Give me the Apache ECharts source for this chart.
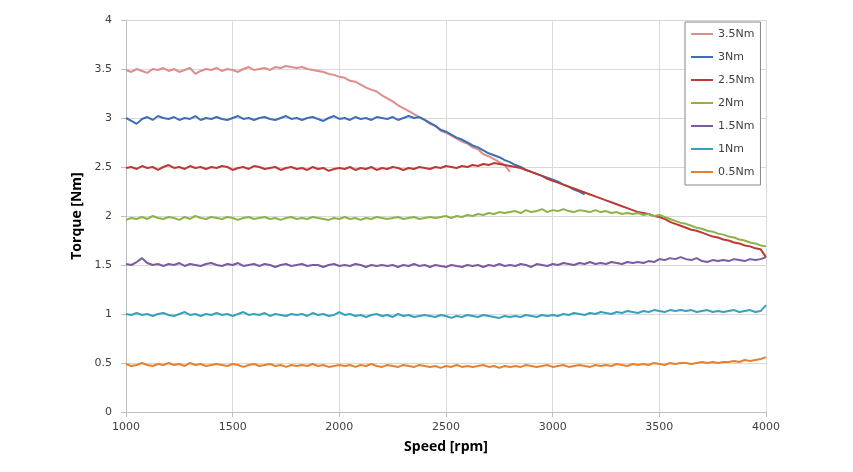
<!DOCTYPE html>
<html>
<head>
<meta charset="utf-8">
<script src="https://cdn.jsdelivr.net/npm/echarts@6/dist/echarts.min.js"></script>
<style>html,body{margin:0;padding:0;background:#fff}#c{width:853px;height:472px}</style>
</head>
<body>
<div id="c"></div>
<script>
const speedStart = 1000, speedStep = 25;
const seriesNames = ['3.5Nm', '3Nm', '2.5Nm', '2Nm', '1.5Nm', '1Nm', '0.5Nm'];
const seriesColors = ['#DC8E8A', '#3D6FB5', '#BE3934', '#8DB24A', '#7B5BA1', '#34A2BE', '#E8812F'];

const t35 = [3.49,3.47,3.50,3.48,3.46,3.50,3.49,3.51,3.48,
  3.50,3.47,3.49,3.51,3.45,3.48,3.50,3.49,
  3.51,3.48,3.50,3.49,3.47,3.50,3.52,3.49,
  3.50,3.51,3.49,3.52,3.51,3.53,3.52,3.51,
  3.52,3.50,3.49,3.48,3.47,3.45,3.44,3.42,
  3.41,3.38,3.37,3.34,3.31,3.29,3.27,3.23,
  3.20,3.17,3.13,3.10,3.07,3.04,3.01,2.98,
  2.94,2.92,2.87,2.85,2.82,2.79,2.76,2.74,
  2.70,2.68,2.63,2.61,2.58,2.55,2.52,2.45];
const t30 = [3.00,2.97,2.94,2.99,3.01,2.98,3.02,3.00,2.99,
  3.01,2.98,3.00,2.99,3.02,2.98,3.00,2.99,
  3.01,2.99,2.98,3.00,3.02,2.99,3.00,2.98,
  3.00,3.01,2.99,2.98,3.00,3.02,2.99,3.00,
  2.98,3.00,3.01,2.99,2.97,3.00,3.02,2.99,
  3.00,2.98,3.01,2.99,3.00,2.98,3.01,3.00,
  2.99,3.01,2.98,3.00,3.02,3.00,3.01,2.98,
  2.95,2.92,2.88,2.86,2.83,2.80,2.78,2.75,
  2.72,2.70,2.67,2.64,2.62,2.60,2.57,2.55,
  2.52,2.50,2.47,2.45,2.43,2.41,2.39,2.37,
  2.35,2.32,2.30,2.27,2.25,2.22];
const t25 = [2.49,2.50,2.48,2.51,2.49,2.50,2.47,2.50,2.52,
  2.49,2.50,2.48,2.51,2.49,2.50,2.48,2.50,
  2.49,2.51,2.50,2.47,2.49,2.50,2.48,2.51,
  2.50,2.48,2.49,2.50,2.47,2.49,2.50,2.48,
  2.49,2.47,2.50,2.48,2.49,2.46,2.48,2.49,
  2.48,2.50,2.47,2.49,2.48,2.50,2.47,2.49,
  2.48,2.50,2.49,2.47,2.49,2.48,2.50,2.49,
  2.48,2.50,2.49,2.51,2.50,2.49,2.51,2.50,
  2.52,2.51,2.53,2.52,2.54,2.53,2.52,2.51,
  2.50,2.49,2.47,2.45,2.43,2.41,2.38,2.36,
  2.34,2.32,2.30,2.28,2.26,2.24,2.22,2.20,
  2.18,2.16,2.14,2.12,2.10,2.08,2.06,2.04,
  2.03,2.02,2.00,1.99,1.97,1.94,1.92,1.90,
  1.88,1.86,1.85,1.83,1.81,1.79,1.78,1.76,
  1.75,1.73,1.72,1.70,1.69,1.67,1.66,1.58];
const t20 = [1.96,1.98,1.97,1.99,1.97,2.00,1.98,1.97,1.99,
  1.98,1.96,1.99,1.97,2.00,1.98,1.97,1.99,
  1.98,1.97,1.99,1.98,1.96,1.98,1.99,1.97,
  1.98,1.99,1.97,1.98,1.96,1.98,1.99,1.97,
  1.98,1.97,1.99,1.98,1.97,1.96,1.98,1.97,
  1.99,1.97,1.98,1.96,1.98,1.97,1.99,1.98,
  1.97,1.98,1.99,1.97,1.98,1.99,1.97,1.98,
  1.99,1.98,1.99,2.00,1.98,2.00,1.99,2.01,
  2.00,2.02,2.01,2.03,2.02,2.04,2.03,2.04,
  2.05,2.03,2.06,2.04,2.05,2.07,2.04,2.06,
  2.05,2.07,2.05,2.04,2.06,2.05,2.04,2.06,
  2.04,2.05,2.03,2.04,2.02,2.03,2.02,2.03,
  2.01,2.02,2.00,2.01,1.99,1.97,1.95,1.93,
  1.92,1.90,1.88,1.87,1.85,1.84,1.82,1.81,
  1.79,1.78,1.76,1.75,1.73,1.72,1.70,1.69];
const t15 = [1.51,1.50,1.53,1.57,1.52,1.50,1.51,1.49,1.51,
  1.50,1.52,1.49,1.51,1.50,1.49,1.51,1.52,
  1.50,1.49,1.51,1.50,1.52,1.49,1.50,1.51,
  1.49,1.51,1.50,1.48,1.50,1.51,1.49,1.50,
  1.51,1.49,1.50,1.50,1.48,1.50,1.51,1.49,
  1.50,1.49,1.51,1.50,1.48,1.50,1.49,1.50,
  1.49,1.50,1.48,1.50,1.49,1.51,1.49,1.50,
  1.48,1.50,1.49,1.48,1.50,1.49,1.48,1.50,
  1.49,1.50,1.48,1.50,1.49,1.51,1.49,1.50,
  1.49,1.51,1.50,1.48,1.51,1.50,1.49,1.51,
  1.50,1.52,1.51,1.50,1.52,1.51,1.53,1.51,
  1.52,1.51,1.53,1.52,1.51,1.53,1.52,1.53,
  1.52,1.54,1.53,1.56,1.55,1.57,1.56,1.58,
  1.56,1.55,1.57,1.54,1.53,1.55,1.54,1.55,
  1.54,1.56,1.55,1.54,1.56,1.55,1.56,1.58];
const t10 = [1.00,0.99,1.01,0.99,1.00,0.98,1.00,1.01,0.99,
  0.98,1.00,1.02,0.99,1.00,0.98,1.00,0.99,
  1.01,0.99,1.00,0.98,1.00,1.02,0.99,1.00,
  0.99,1.01,0.98,1.00,0.99,0.98,1.00,0.99,
  1.00,0.98,1.01,0.99,1.00,0.98,0.99,1.02,
  0.99,1.00,0.98,0.99,0.97,0.99,1.00,0.98,
  0.99,0.97,1.00,0.98,0.99,0.97,0.98,0.99,
  0.98,0.97,0.99,0.98,0.96,0.98,0.97,0.99,
  0.98,0.97,0.99,0.98,0.97,0.96,0.98,0.97,
  0.98,0.97,0.99,0.98,0.97,0.99,0.98,0.99,
  0.98,1.00,0.99,1.01,1.00,0.99,1.01,1.00,
  1.02,1.01,1.00,1.02,1.01,1.03,1.02,1.01,
  1.03,1.02,1.04,1.03,1.02,1.04,1.03,1.04,
  1.03,1.04,1.02,1.03,1.04,1.02,1.03,1.02,
  1.03,1.04,1.02,1.03,1.04,1.02,1.03,1.09];
const t05 = [0.49,0.47,0.48,0.50,0.48,0.47,0.49,0.48,0.50,
  0.48,0.49,0.47,0.50,0.48,0.49,0.47,0.48,
  0.49,0.48,0.47,0.49,0.48,0.46,0.48,0.49,
  0.47,0.48,0.49,0.47,0.48,0.46,0.48,0.47,
  0.48,0.47,0.49,0.47,0.48,0.46,0.47,0.48,
  0.47,0.48,0.46,0.48,0.47,0.49,0.47,0.46,
  0.48,0.47,0.46,0.48,0.47,0.46,0.48,0.47,
  0.46,0.47,0.45,0.47,0.46,0.48,0.46,0.47,
  0.46,0.47,0.48,0.46,0.47,0.45,0.47,0.46,
  0.47,0.46,0.48,0.47,0.46,0.47,0.48,0.46,
  0.47,0.48,0.46,0.47,0.48,0.47,0.46,0.48,
  0.47,0.48,0.47,0.49,0.48,0.47,0.49,0.48,
  0.49,0.48,0.50,0.49,0.48,0.50,0.49,0.50,
  0.50,0.49,0.50,0.51,0.50,0.51,0.50,0.51,
  0.51,0.52,0.51,0.53,0.52,0.53,0.54,0.56];
const torqueSets = [t35, t30, t25, t20, t15, t10, t05];

const xTicks = [1000, 1500, 2000, 2500, 3000, 3500, 4000];
const yTicks = [0, 0.5, 1, 1.5, 2, 2.5, 3, 3.5, 4];

const chart = echarts.init(document.getElementById('c'), null, {renderer: 'canvas'});
const labelFont = 'DejaVu Sans';
const series = seriesNames.map((name, k) => ({
  name: name,
  type: 'line',
  showSymbol: false,
  symbol: 'none',
  color: seriesColors[k],
  lineStyle: {width: 2, color: seriesColors[k]},
  data: torqueSets[k].map((v, i) => [speedStart + i * speedStep, v]),
  animation: false
}));

chart.setOption({
  animation: false,
  backgroundColor: '#ffffff',
  grid: {left: 126, right: 87, top: 20, bottom: 60, containLabel: false},
  xAxis: {
    type: 'value',
    min: xTicks[0], max: xTicks[xTicks.length - 1], interval: 500,
    name: 'Speed [rpm]', nameLocation: 'middle', nameGap: 28,
    nameTextStyle: {fontFamily: 'Open Sans', fontWeight: 'bold', fontSize: 14, color: '#000'},
    axisLine: {show: true, lineStyle: {color: '#BFBFBF', width: 1}},
    axisTick: {show: true, length: 5, lineStyle: {color: '#BFBFBF'}},
    axisLabel: {margin: 10, fontFamily: labelFont, fontSize: 11, color: '#404040',
      formatter: v => String(v)},
    splitLine: {show: true, lineStyle: {color: '#D9D9D9', width: 1}}
  },
  yAxis: {
    type: 'value',
    min: yTicks[0], max: yTicks[yTicks.length - 1], interval: 0.5,
    name: 'Torque [Nm]', nameLocation: 'middle', nameGap: 39, nameRotate: 90,
    nameTextStyle: {fontFamily: 'Open Sans', fontWeight: 'bold', fontSize: 14, color: '#000'},
    axisLine: {show: true, lineStyle: {color: '#BFBFBF', width: 1}},
    axisTick: {show: true, length: 5, lineStyle: {color: '#BFBFBF'}},
    axisLabel: {margin: 14, fontFamily: labelFont, fontSize: 11, color: '#404040',
      formatter: v => String(v)},
    splitLine: {show: true, lineStyle: {color: '#D9D9D9', width: 1}}
  },
  legend: {
    orient: 'vertical',
    left: 685, top: 22,
    padding: [5, 6, 6, 6],
    itemGap: 9,
    itemWidth: 22, itemHeight: 2,
    icon: 'rect',
    borderColor: '#868686', borderWidth: 1,
    backgroundColor: '#ffffff',
    textStyle: {fontFamily: labelFont, fontSize: 11, color: '#404040', lineHeight: 14},
    data: seriesNames
  },
  series: series
});
</script>
</body>
</html>
